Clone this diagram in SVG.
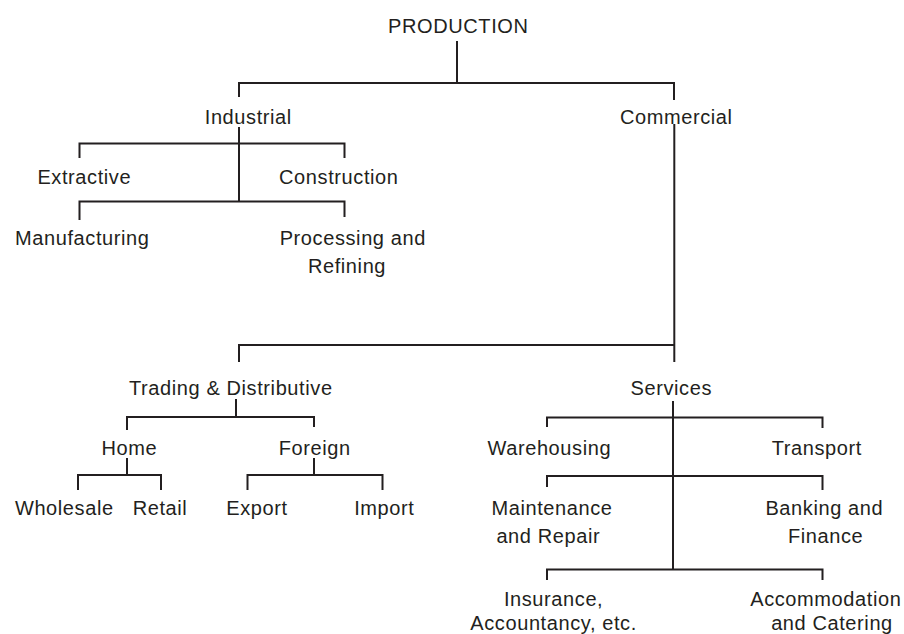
<svg xmlns="http://www.w3.org/2000/svg" width="904" height="634" viewBox="0 0 904 634">
  <style>
    .lbl { font-family: "Liberation Sans", Arial, sans-serif; font-size: 20px; letter-spacing: 0.6px; fill: #231f20; text-anchor: middle; }
    .wire { fill: none; stroke: #231f20; stroke-width: 2; stroke-linecap: butt; stroke-linejoin: miter; }
  </style>
  <rect width="904" height="634" fill="#ffffff"/>

  <!-- connectors -->
  <g id="connectors" class="wire">
    <path d="M457 41 V83"/>
    <path d="M239 97 V83 H674 V100"/>
    <!-- industrial branch -->
    <path d="M239 127 V202"/>
    <path d="M79.5 158 V143.5 H344.5 V158"/>
    <path d="M79.5 220 V201.5 H344.5 V217"/>
    <!-- commercial branch -->
    <path d="M674.3 124 V362"/>
    <path d="M239 362 V345 H674.3"/>
    <!-- trading & distributive -->
    <path d="M236 399 V417"/>
    <path d="M127 430 V417 H314 V427"/>
    <path d="M127 458 V475"/>
    <path d="M78 490 V475 H161 V490"/>
    <path d="M314 458 V475"/>
    <path d="M247.5 490 V475 H382.5 V490"/>
    <!-- services -->
    <path d="M673 401 V569.5"/>
    <path d="M547 427 V417.5 H822.5 V428"/>
    <path d="M547 487 V476 H822.5 V490"/>
    <path d="M547 580 V569.5 H822.5 V580"/>
  </g>

  <!-- nodes -->
  <g id="production"><text class="lbl" x="458.3" y="33">PRODUCTION</text></g>
  <g id="industrial"><text class="lbl" x="248.3" y="124">Industrial</text></g>
  <g id="commercial"><text class="lbl" x="676.3" y="124">Commercial</text></g>
  <g id="extractive"><text class="lbl" x="84.3" y="184">Extractive</text></g>
  <g id="construction"><text class="lbl" x="338.8" y="184">Construction</text></g>
  <g id="manufacturing"><text class="lbl" x="82.3" y="245">Manufacturing</text></g>
  <g id="processing">
    <text class="lbl" x="352.8" y="245">Processing and</text>
    <text class="lbl" x="347" y="273">Refining</text>
  </g>
  <g id="trading"><text class="lbl" x="230.8" y="395">Trading &amp; Distributive</text></g>
  <g id="services"><text class="lbl" x="671.3" y="395">Services</text></g>
  <g id="home"><text class="lbl" x="129.3" y="455">Home</text></g>
  <g id="foreign"><text class="lbl" x="314.8" y="455">Foreign</text></g>
  <g id="wholesale"><text class="lbl" x="64.3" y="515">Wholesale</text></g>
  <g id="retail"><text class="lbl" x="160" y="515">Retail</text></g>
  <g id="export"><text class="lbl" x="257" y="515">Export</text></g>
  <g id="import"><text class="lbl" x="384.3" y="515">Import</text></g>
  <g id="warehousing"><text class="lbl" x="549.3" y="455">Warehousing</text></g>
  <g id="transport"><text class="lbl" x="816.8" y="455">Transport</text></g>
  <g id="maintenance">
    <text class="lbl" x="552" y="515">Maintenance</text>
    <text class="lbl" x="548.3" y="542.5">and Repair</text>
  </g>
  <g id="banking">
    <text class="lbl" x="824.3" y="515">Banking and</text>
    <text class="lbl" x="825.6" y="542.5">Finance</text>
  </g>
  <g id="insurance">
    <text class="lbl" x="553.6" y="605.5">Insurance,</text>
    <text class="lbl" x="553.6" y="629.5">Accountancy, etc.</text>
  </g>
  <g id="accommodation">
    <text class="lbl" x="825.8" y="605.5">Accommodation</text>
    <text class="lbl" x="832" y="629.5">and Catering</text>
  </g>
</svg>
